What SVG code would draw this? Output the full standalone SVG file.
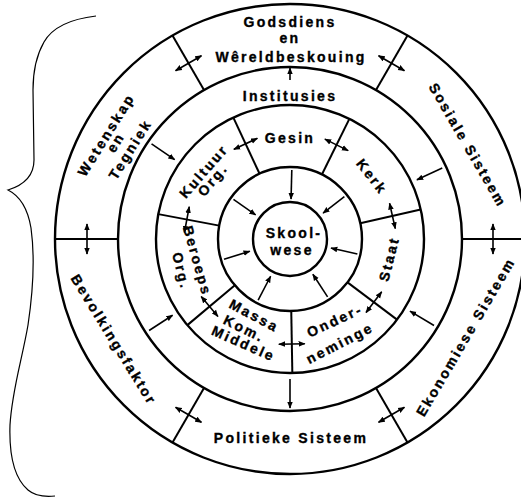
<svg xmlns="http://www.w3.org/2000/svg" width="521" height="498" viewBox="0 0 521 498">
<style>
.c{fill:none;stroke:#000;stroke-width:2.4}
.d{stroke:#000;stroke-width:2}
.a{stroke:#000;stroke-width:1.6;marker-end:url(#ah)}
.aa{stroke:#000;stroke-width:1.6;marker-start:url(#ah);marker-end:url(#ah)}
.t{font-family:"Liberation Sans",Arial,sans-serif;font-weight:bold;font-size:14px;letter-spacing:2.3px;text-anchor:middle;fill:#000;stroke:#000;stroke-width:0.35}
.b{fill:none;stroke:#000;stroke-width:1.2}
</style>
<defs>
<marker id="ah" viewBox="0 0 10 10" refX="9" refY="5" markerWidth="7" markerHeight="7" markerUnits="userSpaceOnUse" orient="auto-start-reverse"><path d="M0,1 L10,5 L0,9 z" fill="#000"/></marker>
</defs>
<rect width="521" height="498" fill="#fff"/>
<path class="b" d="M96,16 C70,19 52,28 44,42 C36,56 33,70 33,90 L34,160 C34,176 24,185 8,190 C20,196 28,210 31,228 C34,250 34,285 28,325 C22,360 12,390 10,425 C9,455 14,478 28,490 C35,496 45,497 55,496"/>
<g id="rings">
<circle class="c" cx="290" cy="239" r="235"/>
<circle class="c" cx="290" cy="239" r="172"/>
<circle class="c" cx="290" cy="239" r="134"/>
<circle class="c" cx="290" cy="239" r="72"/>
<circle class="c" cx="290" cy="239" r="37"/>
<line class="d" x1="462" y1="239" x2="525" y2="239"/>
<line class="d" x1="462" y1="239" x2="525" y2="239" transform="rotate(-60 290 239)"/>
<line class="d" x1="462" y1="239" x2="525" y2="239" transform="rotate(-120 290 239)"/>
<line class="d" x1="462" y1="239" x2="525" y2="239" transform="rotate(-180 290 239)"/>
<line class="d" x1="462" y1="239" x2="525" y2="239" transform="rotate(-240 290 239)"/>
<line class="d" x1="462" y1="239" x2="525" y2="239" transform="rotate(-300 290 239)"/>
<line class="d" x1="362" y1="239" x2="424" y2="239" transform="rotate(-12.7 290 239)"/>
<line class="d" x1="362" y1="239" x2="424" y2="239" transform="rotate(-63.7 290 239)"/>
<line class="d" x1="362" y1="239" x2="424" y2="239" transform="rotate(-115 290 239)"/>
<line class="d" x1="362" y1="239" x2="424" y2="239" transform="rotate(-169.3 290 239)"/>
<line class="d" x1="362" y1="239" x2="424" y2="239" transform="rotate(-220 290 239)"/>
<line class="d" x1="362" y1="239" x2="424" y2="239" transform="rotate(89 290 239)"/>
<line class="d" x1="362" y1="239" x2="424" y2="239" transform="rotate(37 290 239)"/>
</g>
<g id="godsdiens"><text class="t" x="290" y="27">Godsdiens</text><text class="t" x="290" y="42.5">en</text><text class="t" x="291" y="62">Wêreldbeskouing</text></g>
<g id="wetenskap"><text class="t" transform="translate(106.5 135) rotate(-58)" dy="0.32em">Wetenskap</text><text class="t" transform="translate(116 142.5) rotate(-58)" dy="0.32em">en</text><text class="t" transform="translate(130.5 149.5) rotate(-58)" dy="0.32em">Tegniek</text></g>
<g id="sosiale"><text class="t" transform="translate(467.5 145.5) rotate(60)" dy="0.32em">Sosiale Sisteem</text></g>
<g id="ekonomiese"><text class="t" transform="translate(466 337) rotate(-59.6)" dy="0.32em">Ekonomiese Sisteem</text></g>
<g id="bevolking"><text class="t" transform="translate(113.5 340) rotate(58.4)" dy="0.32em">Bevolkingsfaktor</text></g>
<g id="politieke"><text class="t" x="291" y="443">Politieke Sisteem</text></g>
<g id="institusies"><text class="t" x="290" y="101">Institusies</text></g>
<g id="gesin"><text class="t" x="290" y="143">Gesin</text></g>
<g id="kerk"><text class="t" transform="translate(371.5 177) rotate(52)" dy="0.32em">Kerk</text></g>
<g id="staat"><text class="t" transform="translate(389.5 259) rotate(-76)" dy="0.32em">Staat</text></g>
<g id="ondernemings"><text class="t" transform="translate(335 321) rotate(-25)" dy="0.32em">Onder-</text><text class="t" transform="translate(340 343.5) rotate(-27)" dy="0.32em">neminge</text></g>
<g id="massa"><text class="t" transform="translate(254 316) rotate(28)" dy="0.32em">Massa</text><text class="t" transform="translate(244 329) rotate(26)" dy="0.32em">Kom.</text><text class="t" transform="translate(243.5 344) rotate(24)" dy="0.32em">Middele</text></g>
<g id="beroeps"><text class="t" transform="translate(197 261) rotate(74)" dy="0.32em">Beroeps</text><text class="t" transform="translate(181 271) rotate(76)" dy="0.32em">Org.</text></g>
<g id="kultuur"><text class="t" transform="translate(204 171.5) rotate(-49)" dy="0.32em">Kultuur</text><text class="t" transform="translate(213 180) rotate(-50)" dy="0.32em">Org.</text></g>
<g id="skoolwese"><text class="t" x="294" y="238">Skool-</text><text class="t" x="292" y="255">wese</text></g>
<g id="connectors">
<line class="aa" x1="493" y1="224" x2="493" y2="254"/>
<line class="aa" x1="493" y1="224" x2="493" y2="254" transform="rotate(-60 290 239)"/>
<line class="aa" x1="493" y1="224" x2="493" y2="254" transform="rotate(-120 290 239)"/>
<line class="aa" x1="493" y1="224" x2="493" y2="254" transform="rotate(-180 290 239)"/>
<line class="aa" x1="493" y1="224" x2="493" y2="254" transform="rotate(-240 290 239)"/>
<line class="aa" x1="493" y1="224" x2="493" y2="254" transform="rotate(-300 290 239)"/>
<line class="aa" x1="395" y1="226" x2="395" y2="252" transform="rotate(-12.7 290 239)"/>
<line class="aa" x1="395" y1="226" x2="395" y2="252" transform="rotate(-63.7 290 239)"/>
<line class="aa" x1="395" y1="226" x2="395" y2="252" transform="rotate(-115 290 239)"/>
<line class="aa" x1="395" y1="226" x2="395" y2="252" transform="rotate(-169.3 290 239)"/>
<line class="aa" x1="395" y1="226" x2="395" y2="252" transform="rotate(-220 290 239)"/>
<line class="aa" x1="395" y1="226" x2="395" y2="252" transform="rotate(89 290 239)"/>
<line class="aa" x1="395" y1="226" x2="395" y2="252" transform="rotate(37 290 239)"/>
<line class="a" x1="449" y1="239" x2="461" y2="239" transform="rotate(-90 290 239)"/>
<line class="a" x1="458" y1="239" x2="430" y2="239" transform="rotate(-25 290 239)"/>
<line class="a" x1="458" y1="239" x2="430" y2="239" transform="rotate(31 290 239)"/>
<line class="a" x1="430" y1="239" x2="459" y2="239" transform="rotate(90 290 239)"/>
<line class="a" x1="458" y1="239" x2="430" y2="239" transform="rotate(147 290 239)"/>
<line class="a" x1="458" y1="239" x2="430" y2="239" transform="rotate(-145.5 290 239)"/>
<line class="a" x1="359" y1="239" x2="330" y2="239" transform="rotate(-88.5 290 239)"/>
<line class="a" x1="359" y1="239" x2="332" y2="239" transform="rotate(-38 290 239)"/>
<line class="a" x1="359" y1="239" x2="332" y2="239" transform="rotate(12.5 290 239)"/>
<line class="a" x1="359" y1="239" x2="332" y2="239" transform="rotate(57 290 239)"/>
<line class="a" x1="359" y1="239" x2="332" y2="239" transform="rotate(117.5 290 239)"/>
<line class="a" x1="359" y1="239" x2="332" y2="239" transform="rotate(163 290 239)"/>
<line class="a" x1="359" y1="239" x2="332" y2="239" transform="rotate(-145 290 239)"/>
</g>
</svg>
